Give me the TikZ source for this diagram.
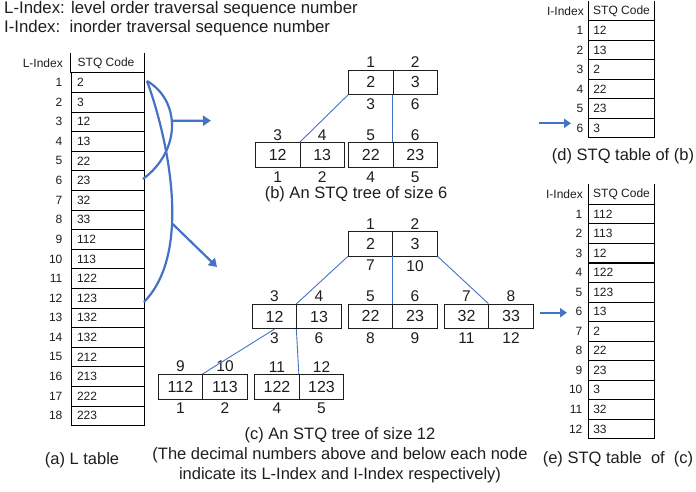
\documentclass[tikz,border=0pt]{standalone}
\usepackage{fontspec}
\setmainfont{Liberation Sans}
\usetikzlibrary{arrows.meta,calc}
\definecolor{ablue}{RGB}{68,114,196}
\definecolor{txt}{RGB}{30,30,30}
\begin{document}
\begin{tikzpicture}[x=1pt,y=-1pt,
  every node/.style={text=txt},
  cell/.style={draw=txt, line width=0.8pt, minimum width=44.5pt, minimum height=24.4pt, inner sep=0pt, font=\fontsize{16}{18}\selectfont},
  lab/.style={inner sep=0pt, font=\fontsize{15.5}{17}\selectfont},
  captxt/.style={inner sep=0pt, font=\fontsize{16.5}{19}\selectfont},
  head/.style={inner sep=0pt, font=\fontsize{16.8}{19}\selectfont, anchor=west},
  lrow/.style={draw=black, line width=0.8pt, minimum width=73.3pt, text width=61.3pt, inner xsep=6pt, inner ysep=0pt, minimum height=19.6pt, align=left, font=\fontsize{12}{13}\selectfont},
  srow/.style={draw=black, line width=0.8pt, minimum width=66pt, text width=56pt, inner xsep=5pt, inner ysep=0pt, minimum height=19.5pt, align=left, font=\fontsize{12}{13}\selectfont},
  idx/.style={inner sep=0pt, anchor=east, font=\fontsize{12}{13}\selectfont},
  hdr/.style={anchor=west, inner sep=0pt, font=\fontsize{12}{13}\selectfont},
  tline/.style={draw=ablue, line width=0.9pt},
  bigcurve/.style={draw=ablue, line width=2.2pt},
  barrow/.style={draw=ablue, line width=2.2pt, -{Triangle[length=8pt,width=10pt]}},
  sarrow/.style={draw=ablue, line width=1.8pt, -{Triangle[length=7pt,width=9pt]}}
]
\useasboundingbox (0,0) rectangle (696,491);

% header text
\node[head] (h1) at (4,9.5) {L-Index: level order traversal sequence number};
\node[head] (h2) at (4,28) {I-Index:\ \ inorder traversal sequence number};

% ---------- L table ----------
\node[minimum width=73.3pt, minimum height=19.7pt, inner sep=0pt] (Lh) at (107.65,62.85) {};
\node[hdr] (Lhc) at (77.5,62.85) {STQ Code};
\node[idx] (Lhi) at (63,62.85) {L-Index};
\draw[line width=0.8pt] (Lh.north west) -- (Lh.south west) (Lh.north east) -- (Lh.south east);
\foreach \c [count=\i] in {2,3,12,13,22,23,32,33,112,113,122,123,132,132,212,213,222,223}{
  \node[lrow] (L\i) at ({107.65},{72.7+19.6*\i-9.8}) {\c};
  \node[idx] (Li\i) at ([xshift=-8pt]L\i.west) {\i};
}
\node[captxt] (capa) at (82,460) {(a) L table};

% ---------- curves from L table ----------
\coordinate (c1s) at (147,81);
\coordinate (c1e) at (143,179);
\coordinate (c2e) at (144,302);
\draw[bigcurve] (c1s) .. controls (180,100) and (182,150) .. (c1e) coordinate[pos=0.45] (br1);
\draw[bigcurve] (c1s) .. controls (165,130) and (195,250) .. (c2e) coordinate[pos=0.63] (br2);
\coordinate (br1t) at (211,120.7);
\coordinate (br2t) at (217,267);
\draw[barrow] (br1) -- (br1t);
\draw[barrow] (br2) -- (br2t);

% ---------- tree (b) ----------
\node[cell] (b11) at (370.8,82.2) {2};
\node[cell] (b12) at (415.3,82.2) {3};
\node[cell] (b21) at (277.7,155) {12};
\node[cell] (b22) at (322.2,155) {13};
\node[cell] (b31) at (370.8,155) {22};
\node[cell] (b32) at (415.3,155) {23};
\foreach \n/\a/\b in {b11/1/3,b12/2/6,b21/3/1,b22/4/2,b31/5/4,b32/6/5}{
  \node[lab, anchor=south] (\n a) at ([yshift=1.8pt]\n.north) {\a};
  \node[lab, anchor=north] (\n b) at ([yshift=-3.6pt]\n.south) {\b};
}
\draw[tline] (b11.south west) -- (b22.north west);
\draw[tline] (b12.south west) -- (b32.north west);
\node[captxt] (capb) at (356,194) {(b) An STQ tree of size 6};

% ---------- tree (c) ----------
\node[cell] (c11) at (370.5,243.8) {2};
\node[cell] (c12) at (415,243.8) {3};
\node[cell] (cA1) at (274.5,316.5) {12};
\node[cell] (cA2) at (319,316.5) {13};
\node[cell] (cB1) at (370.5,316.2) {22};
\node[cell] (cB2) at (415,316.2) {23};
\node[cell] (cC1) at (466.5,316.2) {32};
\node[cell] (cC2) at (511,316.2) {33};
\node[cell] (cD1) at (180.5,386.7) {112};
\node[cell] (cD2) at (225,386.7) {113};
\node[cell] (cE1) at (277,386.7) {122};
\node[cell] (cE2) at (321.5,386.7) {123};
\foreach \n/\a/\b in {c11/1/7,c12/2/10,cA1/3/3,cA2/4/6,cB1/5/8,cB2/6/9,cC1/7/11,cC2/8/12,cD1/9/1,cD2/10/2,cE1/11/4,cE2/12/5}{
  \node[lab, anchor=south] (\n a) at ([yshift=1.8pt]\n.north) {\a};
  \node[lab, anchor=north] (\n b) at ([yshift=-3.6pt]\n.south) {\b};
}
\draw[tline] (c11.south west) -- (cA2.north west);
\draw[tline] (c12.south west) -- (cB2.north west);
\draw[tline] (c12.south east) -- (cC2.north west);
\draw[tline] (cA1.south) -- (cD2.north west);
\draw[tline] (cA2.south west) -- (cE2.north west);
\node[captxt] (capc1) at (340,435) {(c) An STQ tree of size 12};
\node[captxt] (capc2) at (340,455) {(The decimal numbers above and below each node};
\node[captxt] (capc3) at (340,475.5) {indicate its L-Index and I-Index respectively)};

% ---------- table (d) ----------
\node[minimum width=66pt, minimum height=19.7pt, inner sep=0pt] (Dh) at (621.3,11.35) {};
\node[hdr] (Dhc) at (593,11.5) {STQ Code};
\node[idx] (Dhi) at (584,11.5) {I-Index};
\draw[line width=0.8pt] (Dh.north west) -- (Dh.south west) (Dh.north east) -- (Dh.south east);
\foreach \c [count=\i] in {12,13,2,22,23,3}{
  \node[srow] (D\i) at ({621.3},{20.7+19.5*\i-9.75}) {\c};
  \node[idx] (Di\i) at ([xshift=-4.5pt]D\i.west) {\i};
}
\coordinate (ad) at (539,123.3);
\coordinate (adt) at (571,123.3);
\draw[sarrow] (ad) -- (adt);
\node[captxt] (capd) at (623,156) {(d) STQ table of (b)};

% ---------- table (e) ----------
\node[minimum width=66pt, minimum height=20.3pt, inner sep=0pt] (Eh) at (621.3,194.15) {};
\node[hdr] (Ehc) at (593,194.5) {STQ Code};
\node[idx] (Ehi) at (583,194.5) {I-Index};
\draw[line width=0.8pt] (Eh.north west) -- (Eh.south west) (Eh.north east) -- (Eh.south east);
\foreach \c [count=\i] in {112,113,12,122,123,13,2,22,23,3,32,33}{
  \node[srow] (E\i) at ({621.3},{204.3+19.53*\i-9.765}) {\c};
  \node[idx] (Ei\i) at ([xshift=-5.3pt]E\i.west) {\i};
}
\coordinate (ae) at (540,312.7);
\coordinate (aet) at (567,312.7);
\draw[sarrow] (ae) -- (aet);
\node[captxt] (cape) at (618,459) {(e) STQ table\ \ of\ \ (c)};

\end{tikzpicture}
\end{document}
